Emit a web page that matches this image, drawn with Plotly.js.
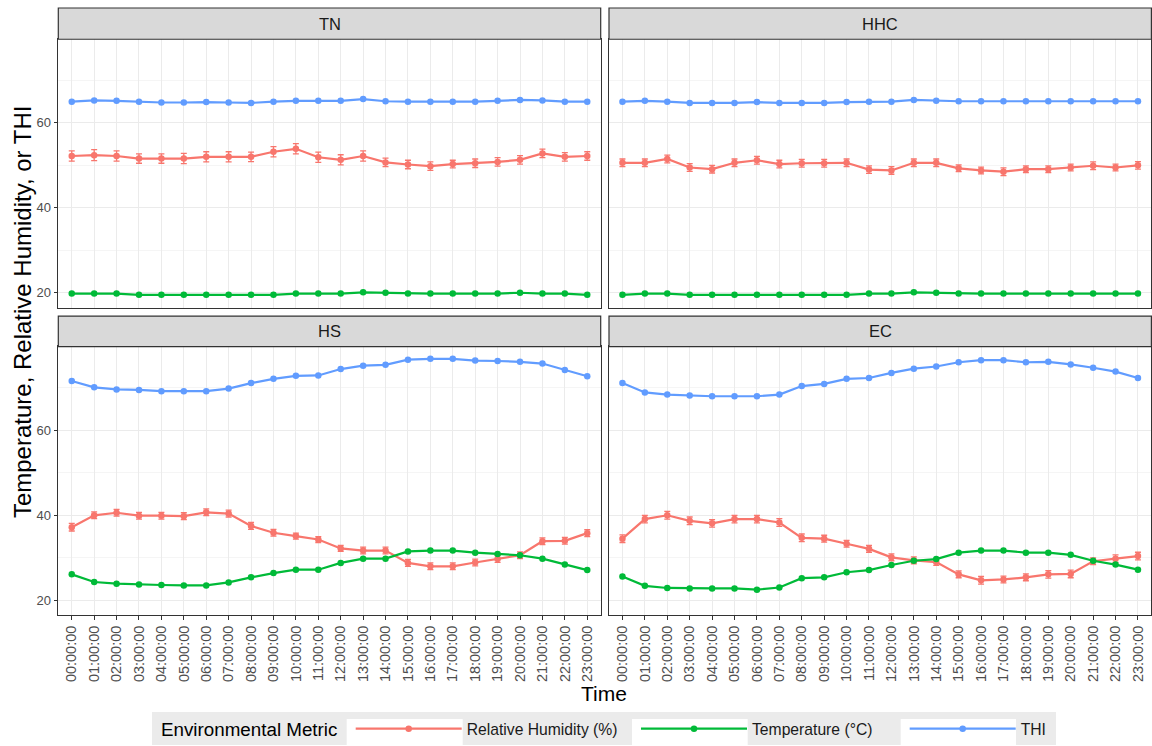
<!DOCTYPE html>
<html>
<head>
<meta charset="utf-8">
<script src="https://cdn.plot.ly/plotly-3.0.1.min.js"></script>
<style>
  html, body { margin: 0; padding: 0; background: #fff; }
  #chart { width: 1152px; height: 746px; }
</style>
</head>
<body>
<div id="chart"></div>
<script>
'use strict';

// hour labels on the x axis
var times = ['00:00:00', '01:00:00', '02:00:00', '03:00:00', '04:00:00', '05:00:00',
             '06:00:00', '07:00:00', '08:00:00', '09:00:00', '10:00:00', '11:00:00',
             '12:00:00', '13:00:00', '14:00:00', '15:00:00', '16:00:00', '17:00:00',
             '18:00:00', '19:00:00', '20:00:00', '21:00:00', '22:00:00', '23:00:00'];

var facets = ['TN', 'HHC', 'HS', 'EC'];
var metrics = ['Relative Humidity (%)', 'Temperature (°C)', 'THI'];
var metricColors = ['#F8766D', '#00BA38', '#619CFF'];

// TN
var tnRH = [52.2, 52.4, 52.2, 51.6, 51.6, 51.6, 52.0, 52.0, 52.0, 53.2, 53.9, 51.9,
            51.3, 52.2, 50.7, 50.2, 49.8, 50.3, 50.5, 50.8, 51.3, 52.8, 52.0, 52.2];
var tnRHse = [1.2, 1.3, 1.2, 1.1, 1.1, 1.2, 1.2, 1.2, 1.1, 1.2, 1.2, 1.2,
              1.2, 1.2, 1.0, 1.0, 1.0, 0.9, 1.0, 1.0, 1.0, 1.0, 1.0, 1.0];
var tnTemp = [19.8, 19.8, 19.8, 19.5, 19.5, 19.5, 19.5, 19.5, 19.5, 19.5, 19.8, 19.8,
              19.8, 20.1, 20.0, 19.8, 19.8, 19.8, 19.8, 19.8, 20.0, 19.8, 19.8, 19.5];
var tnTHI = [65.0, 65.3, 65.2, 65.0, 64.8, 64.8, 64.9, 64.8, 64.7, 65.0, 65.2, 65.2,
             65.2, 65.6, 65.1, 65.0, 65.0, 65.0, 65.0, 65.2, 65.4, 65.3, 65.0, 65.0];

// HHC
var hhcRH = [50.6, 50.6, 51.5, 49.5, 49.1, 50.6, 51.2, 50.3, 50.5, 50.5, 50.6, 49.0,
             48.8, 50.6, 50.6, 49.3, 48.8, 48.5, 49.1, 49.1, 49.5, 49.9, 49.5, 50.0];
var hhcRHse = [0.9, 0.9, 0.9, 0.9, 0.9, 0.9, 0.9, 0.9, 0.9, 0.9, 0.9, 0.9,
               0.9, 0.9, 0.9, 0.8, 0.8, 0.9, 0.8, 0.8, 0.8, 0.9, 0.8, 0.9];
var hhcTemp = [19.5, 19.8, 19.8, 19.5, 19.5, 19.5, 19.5, 19.5, 19.5, 19.5, 19.5, 19.8,
               19.8, 20.1, 20.0, 19.8, 19.8, 19.8, 19.8, 19.8, 19.8, 19.8, 19.8, 19.8];
var hhcTHI = [65.0, 65.2, 65.0, 64.7, 64.7, 64.7, 64.9, 64.7, 64.7, 64.7, 64.9, 65.0,
              65.0, 65.4, 65.2, 65.1, 65.1, 65.1, 65.1, 65.1, 65.1, 65.1, 65.1, 65.1];

// HS
var hsRH = [37.2, 40.0, 40.6, 39.9, 39.9, 39.8, 40.7, 40.4, 37.5, 35.9, 35.1, 34.3,
            32.2, 31.7, 31.7, 28.8, 28.0, 28.0, 28.9, 29.7, 30.6, 33.9, 34.0, 35.8];
var hsRHse = [0.9, 0.8, 0.8, 0.8, 0.8, 0.8, 0.8, 0.8, 0.8, 0.8, 0.7, 0.7,
              0.7, 0.8, 0.8, 0.8, 0.8, 0.8, 0.8, 0.8, 0.8, 0.8, 0.8, 0.8];
var hsTemp = [26.1, 24.3, 23.9, 23.7, 23.6, 23.5, 23.5, 24.2, 25.4, 26.4, 27.2, 27.2,
              28.8, 29.8, 29.8, 31.5, 31.7, 31.7, 31.2, 30.9, 30.6, 29.8, 28.4, 27.1];
var hsTHI = [71.6, 70.1, 69.6, 69.5, 69.2, 69.2, 69.2, 69.8, 71.1, 72.1, 72.8, 72.9,
             74.4, 75.2, 75.4, 76.6, 76.8, 76.8, 76.4, 76.3, 76.1, 75.7, 74.2, 72.7];

// EC
var ecRH = [34.5, 39.1, 40.0, 38.7, 38.1, 39.1, 39.1, 38.3, 34.7, 34.5, 33.3, 32.1,
            30.1, 29.4, 29.0, 26.1, 24.7, 24.9, 25.4, 26.1, 26.2, 29.2, 29.8, 30.4];
var ecRHse = [0.9, 0.9, 0.9, 0.9, 0.9, 0.9, 0.9, 0.9, 0.9, 0.8, 0.8, 0.8,
              0.8, 0.8, 0.8, 0.8, 0.9, 0.8, 0.8, 0.9, 0.9, 0.8, 0.9, 0.9];
var ecTemp = [25.6, 23.4, 22.9, 22.8, 22.8, 22.8, 22.5, 23.0, 25.2, 25.4, 26.6, 27.1,
              28.3, 29.3, 29.7, 31.2, 31.7, 31.7, 31.2, 31.2, 30.7, 29.3, 28.4, 27.2];
var ecTHI = [71.1, 68.9, 68.4, 68.2, 68.0, 68.0, 68.0, 68.4, 70.4, 70.9, 72.1, 72.3,
             73.5, 74.5, 75.0, 76.0, 76.5, 76.5, 76.0, 76.1, 75.5, 74.7, 73.8, 72.3];

var series = [
    [tnRH, tnTemp, tnTHI],
    [hhcRH, hhcTemp, hhcTHI],
    [hsRH, hsTemp, hsTHI],
    [ecRH, ecTemp, ecTHI]
];
var rhErrors = [tnRHse, hhcRHse, hsRHse, ecRHse];

var W = 1152, H = 746;
function fx(px) { return px / W; }
function fy(px) { return 1 - px / H; }

// panel boxes in pixels: [left, right, stripTop, plotTop, plotBottom]
var panels = [
    [58.3, 600.7, 8, 39.3, 308],
    [609, 1151.4, 8, 39.3, 308],
    [58.3, 600.7, 316.5, 347, 616],
    [609, 1151.4, 316.5, 347, 616]
];

// legend key boxes (white) in pixels, one per metric
var keyBoxes = [[346.7, 462.7], [632, 747.7], [900.7, 1016]];

var FONT = 'Liberation Sans, Arial, sans-serif';
var legendNames = ['legend', 'legend2', 'legend3'];

var traces = [];
facets.forEach(function (f, i) {
    var ax = i === 0 ? '' : String(i + 1);
    metrics.forEach(function (m, j) {
        var t = {
            type: 'scatter',
            mode: 'lines+markers',
            name: m,
            legend: legendNames[j],
            legendgroup: m,
            showlegend: i === 0,
            x: times,
            y: series[i][j],
            xaxis: 'x' + ax,
            yaxis: 'y' + ax,
            line: { color: metricColors[j], width: 2.2 },
            marker: { color: metricColors[j], size: 6.5 },
            cliponaxis: false
        };
        if (j === 0) {
            t.error_y = { type: 'data', array: rhErrors[i], visible: true,
                          color: metricColors[j], thickness: 1.3, width: 3 };
        }
        traces.push(t);
    });
});

// one single-entry legend per metric, so each entry sits over its own key box
function legendBox(xpx) {
    return {
        orientation: 'h',
        x: fx(xpx), xanchor: 'left',
        y: fy(729.5), yanchor: 'middle',
        bgcolor: 'rgba(0,0,0,0)',
        font: { family: FONT, size: 15.7, color: '#1A1A1A' },
        itemwidth: 106
    };
}

var layout = {
    width: W,
    height: H,
    margin: { l: 0, r: 0, t: 0, b: 0 },
    paper_bgcolor: '#ffffff',
    plot_bgcolor: '#ffffff',
    font: { family: FONT, color: '#4D4D4D', size: 13 },
    showlegend: true,
    shapes: [],
    annotations: []
};
legendNames.forEach(function (ln, j) {
    layout[ln] = legendBox(keyBoxes[j][0] + 4);
});

panels.forEach(function (p, i) {
    var ax = i === 0 ? '' : String(i + 1);
    var bottom = i >= 2;
    var left = i % 2 === 0;
    layout['xaxis' + ax] = {
        domain: [fx(p[0]), fx(p[1])],
        anchor: 'y' + ax,
        type: 'category',
        range: [-0.6, 23.6],
        showgrid: true,
        gridcolor: '#EBEBEB',
        gridwidth: 1,
        showline: true,
        mirror: true,
        linecolor: '#333333',
        linewidth: 1.2,
        zeroline: false,
        ticks: bottom ? 'outside' : '',
        ticklen: 3.5,
        tickcolor: '#333333',
        showticklabels: bottom,
        tickangle: -90,
        tickfont: { family: FONT, size: 14.5, color: '#4D4D4D' }
    };
    layout['yaxis' + ax] = {
        domain: [fy(p[4]), fy(p[3])],
        anchor: 'x' + ax,
        range: [16.5, 79.7],
        tickvals: [20, 40, 60],
        showgrid: true,
        gridcolor: '#EBEBEB',
        gridwidth: 1,
        minor: { tickvals: [30, 50, 70], showgrid: true, gridcolor: '#F3F3F3', gridwidth: 0.8, ticks: '' },
        showline: true,
        mirror: true,
        linecolor: '#333333',
        linewidth: 1.2,
        zeroline: false,
        ticks: left ? 'outside' : '',
        ticklen: 3.5,
        tickcolor: '#333333',
        showticklabels: left,
        tickfont: { family: FONT, size: 13, color: '#4D4D4D' }
    };
    // facet strip
    layout.shapes.push({
        type: 'rect', xref: 'paper', yref: 'paper',
        x0: fx(p[0]), x1: fx(p[1]), y0: fy(p[3]), y1: fy(p[2]),
        fillcolor: '#D9D9D9', line: { color: '#333333', width: 1.2 }
    });
    layout.annotations.push({
        xref: 'paper', yref: 'paper',
        x: fx((p[0] + p[1]) / 2), y: fy((p[2] + p[3]) / 2),
        xanchor: 'center', yanchor: 'middle', showarrow: false,
        text: facets[i],
        font: { family: FONT, size: 16.5, color: '#1A1A1A' }
    });
});

// legend background and key boxes
layout.shapes.push({
    type: 'rect', xref: 'paper', yref: 'paper', layer: 'below',
    x0: fx(152), x1: fx(1056), y0: 0, y1: fy(713),
    fillcolor: '#EBEBEB', line: { width: 0 }
});
keyBoxes.forEach(function (k) {
    layout.shapes.push({
        type: 'rect', xref: 'paper', yref: 'paper', layer: 'below',
        x0: fx(k[0]), x1: fx(k[1]), y0: 0, y1: fy(720),
        fillcolor: '#ffffff', line: { width: 0 }
    });
});

// legend title
layout.annotations.push({
    xref: 'paper', yref: 'paper', x: fx(159), y: fy(730),
    xanchor: 'left', yanchor: 'middle', showarrow: false,
    text: 'Environmental Metric',
    font: { family: FONT, size: 18.8, color: '#000000' }
});

// axis titles
layout.annotations.push({
    xref: 'paper', yref: 'paper', x: fx(22), y: fy(312.5),
    xanchor: 'center', yanchor: 'middle', showarrow: false, textangle: -90,
    text: 'Temperature, Relative Humidity, or THI',
    font: { family: FONT, size: 24, color: '#000000' }
});
layout.annotations.push({
    xref: 'paper', yref: 'paper', x: fx(604), y: fy(694),
    xanchor: 'center', yanchor: 'middle', showarrow: false,
    text: 'Time',
    font: { family: FONT, size: 21, color: '#000000' }
});

Plotly.newPlot('chart', traces, layout, { displayModeBar: false, staticPlot: true });
</script>
</body>
</html>
